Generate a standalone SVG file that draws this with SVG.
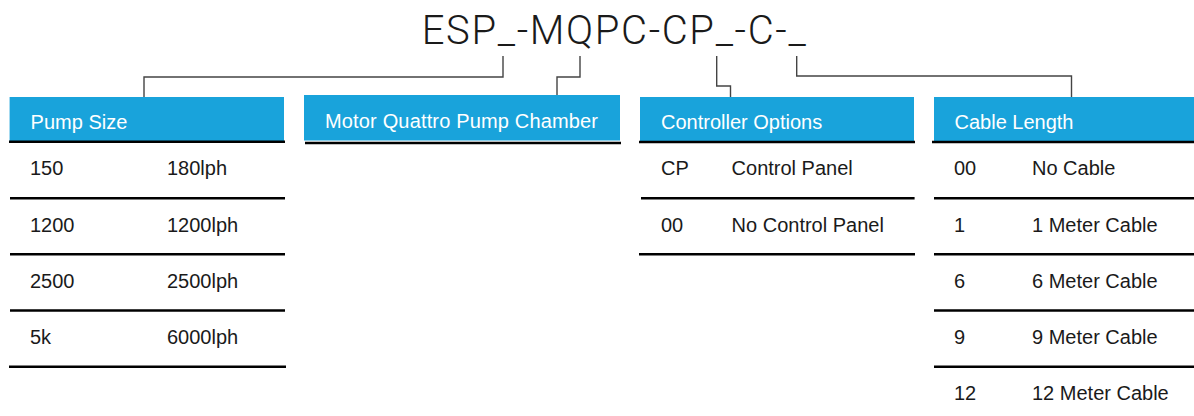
<svg xmlns="http://www.w3.org/2000/svg" width="1194" height="416" viewBox="0 0 1194 416">
  <style>
    .hdr { fill: #19A3DB; }
    .hdrtxt { font-family: "Liberation Sans", Arial, sans-serif; font-size: 20px; fill: #ffffff; }
    .txt { font-family: "Liberation Sans", Arial, sans-serif; font-size: 20px; fill: #1a1a1a; }
    .title { font-family: Roboto, "Liberation Sans", Arial, sans-serif; font-weight: 300; font-size: 40px; fill: #1a1a1a; }
    .rule { stroke: #000000; stroke-width: 2.5; fill: none; }
    .conn { stroke: #444444; stroke-width: 1.4; fill: none; }
  </style>
  <rect width="1194" height="416" fill="#ffffff"/>

  <g id="title">
    <text class="title" x="421.7" y="44" textLength="384" lengthAdjust="spacing">ESP_-MQPC-CP_-C-_</text>
  </g>

  <g id="connectors">
    <polyline class="conn" points="503,56 503,77 144,77 144,97"/>
    <polyline class="conn" points="580,56 580,77 557,77 557,95"/>
    <polyline class="conn" points="716.7,56 716.7,86 730.5,86 730.5,97"/>
    <polyline class="conn" points="796.7,56 796.7,76 1071.5,76 1071.5,97"/>
  </g>

  <g id="pump-size">
    <rect class="hdr" x="9.6" y="97" width="274.4" height="44"/>
    <text class="hdrtxt" x="30.6" y="129">Pump Size</text>
    <line class="rule" x1="9" y1="141.8" x2="285" y2="141.8"/>
    <text class="txt" x="30" y="175">150</text>
    <text class="txt" x="167" y="175">180lph</text>
    <line class="rule" x1="10" y1="198.3" x2="285" y2="198.3"/>
    <text class="txt" x="30" y="231.5">1200</text>
    <text class="txt" x="167" y="231.5">1200lph</text>
    <line class="rule" x1="10" y1="254.3" x2="285" y2="254.3"/>
    <text class="txt" x="30" y="287.7">2500</text>
    <text class="txt" x="167" y="287.7">2500lph</text>
    <line class="rule" x1="10" y1="310.6" x2="285" y2="310.6"/>
    <text class="txt" x="30" y="344">5k</text>
    <text class="txt" x="167" y="344">6000lph</text>
    <line class="rule" x1="9" y1="366.7" x2="286" y2="366.7"/>
  </g>

  <g id="motor-quattro">
    <rect class="hdr" x="304" y="95" width="316" height="45.5"/>
    <text class="hdrtxt" x="325" y="128" textLength="273" lengthAdjust="spacing">Motor Quattro Pump Chamber</text>
    <line class="rule" x1="305" y1="143" x2="621" y2="143"/>
  </g>

  <g id="controller-options">
    <rect class="hdr" x="640" y="97" width="274" height="44"/>
    <text class="hdrtxt" x="661" y="129">Controller Options</text>
    <line class="rule" x1="639" y1="142" x2="915" y2="142"/>
    <text class="txt" x="661" y="175">CP</text>
    <text class="txt" x="731.6" y="175">Control Panel</text>
    <line class="rule" x1="641" y1="198.3" x2="914.6" y2="198.3"/>
    <text class="txt" x="661" y="231.5">00</text>
    <text class="txt" x="731.6" y="231.5">No Control Panel</text>
    <line class="rule" x1="639" y1="254.3" x2="915" y2="254.3"/>
  </g>

  <g id="cable-length">
    <rect class="hdr" x="934" y="97" width="260" height="44"/>
    <text class="hdrtxt" x="954.5" y="129">Cable Length</text>
    <line class="rule" x1="932" y1="142" x2="1194" y2="142"/>
    <text class="txt" x="954" y="175">00</text>
    <text class="txt" x="1032" y="175">No Cable</text>
    <line class="rule" x1="934" y1="198.3" x2="1194" y2="198.3"/>
    <text class="txt" x="954" y="231.5">1</text>
    <text class="txt" x="1032" y="231.5">1 Meter Cable</text>
    <line class="rule" x1="934" y1="254.3" x2="1194" y2="254.3"/>
    <text class="txt" x="954" y="287.7">6</text>
    <text class="txt" x="1032" y="287.7">6 Meter Cable</text>
    <line class="rule" x1="934" y1="310.6" x2="1194" y2="310.6"/>
    <text class="txt" x="954" y="344">9</text>
    <text class="txt" x="1032" y="344">9 Meter Cable</text>
    <line class="rule" x1="934" y1="366.7" x2="1194" y2="366.7"/>
    <text class="txt" x="954" y="400">12</text>
    <text class="txt" x="1032" y="400">12 Meter Cable</text>
  </g>
</svg>
